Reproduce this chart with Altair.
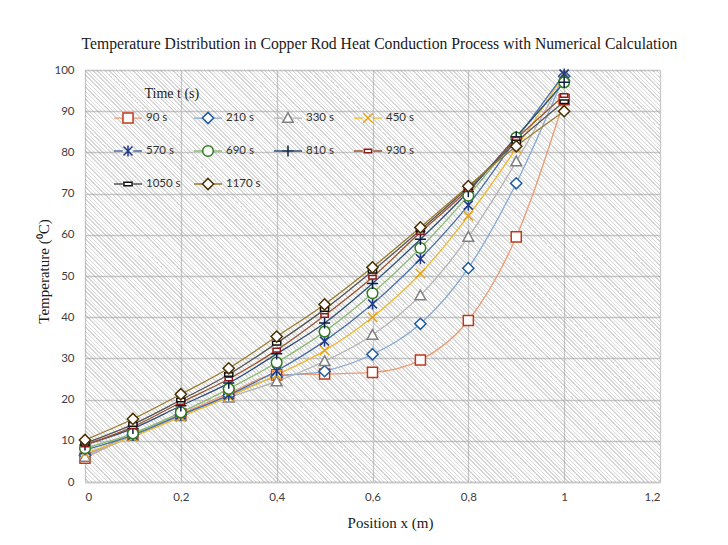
import altair as alt
import pandas as pd

# ---------------- data ----------------
x_pos = [0.0, 0.1, 0.2, 0.3, 0.4, 0.5, 0.6, 0.7, 0.8, 0.9, 1.0]
times = [90, 210, 330, 450, 570, 690, 810, 930, 1050, 1170]
T_90 = [5.8, 11.5, 16.5, 21.5, 26.0, 26.2, 26.6, 29.6, 39.2, 59.5, 92.8]
T_210 = [6.5, 11.5, 16.3, 21.0, 25.5, 26.9, 31.0, 38.4, 51.9, 72.5, 98.5]
T_330 = [6.1, 11.2, 16.0, 20.5, 24.4, 29.3, 35.7, 45.3, 59.5, 77.8, 98.5]
T_450 = [7.0, 11.0, 15.8, 20.7, 26.0, 31.9, 40.0, 50.6, 64.6, 81.0, 99.0]
T_570 = [7.8, 11.4, 16.3, 21.1, 27.0, 34.2, 43.2, 54.2, 67.2, 83.2, 99.0]
T_690 = [8.2, 11.8, 16.9, 22.6, 29.0, 36.5, 45.8, 56.8, 69.5, 83.6, 97.0]
T_810 = [9.0, 13.0, 18.5, 24.0, 31.1, 38.6, 48.2, 58.9, 70.5, 83.8, 97.0]
T_930 = [9.0, 13.4, 19.3, 25.0, 32.0, 40.4, 49.7, 60.6, 71.0, 83.2, 93.8]
T_1050 = [9.4, 14.0, 19.9, 26.1, 33.7, 41.9, 51.2, 61.2, 71.5, 82.5, 92.3]
T_1170 = [10.2, 15.3, 21.3, 27.6, 35.3, 43.1, 52.1, 61.8, 71.8, 81.5, 90.0]
series_values = [T_90, T_210, T_330, T_450, T_570, T_690, T_810, T_930, T_1050, T_1170]

x_ticks = [0, 0.2, 0.4, 0.6, 0.8, 1.0, 1.2]
y_ticks = [0, 10, 20, 30, 40, 50, 60, 70, 80, 90, 100]

# ---------------- styles ----------------
labels = [f"{t} s" for t in times]
line_colors = ["#EE9B70", "#85A9D4", "#B3B3B3", "#F2B92E", "#4A6FA8",
               "#8DBA72", "#2D4F7C", "#A0522D", "#555555", "#9C7A2A"]
marker_colors = ["#C0391B", "#1F5B9E", "#7F7F7F", "#E8A317", "#1F3A8A",
                 "#2F7D1E", "#0B1F44", "#8B1A1A", "#111111", "#4A2F00"]
BOX = "M-1,-0.5M1,0.5"   # invisible moves: give every legend symbol the same bounds
marker_paths = [BOX + p for p in [
    "M-0.36,-0.36H0.36V0.36H-0.36Z",                                   # square
    "M0,-0.4L0.4,0L0,0.4L-0.4,0Z",                                     # diamond
    "M0,-0.38L0.38,0.31L-0.38,0.31Z",                                  # triangle
    "M-0.34,-0.34L0.34,0.34M-0.34,0.34L0.34,-0.34",                    # x
    "M-0.32,-0.32L0.32,0.32M-0.32,0.32L0.32,-0.32M0,-0.4V0.4",         # asterisk
    "M-0.38,0A0.38,0.38 0 1,0 0.38,0A0.38,0.38 0 1,0 -0.38,0Z",        # circle
    "M-0.4,0H0.4M0,-0.4V0.4",                                          # plus
    "M-0.26,-0.13H0.26V0.13H-0.26Z",                                   # short dash
    "M-0.29,-0.13H0.29V0.13H-0.29Z",                                   # short dash
    "M0,-0.4L0.4,0L0,0.4L-0.4,0Z",                                     # diamond
]]
line_symbol = BOX + "M-1,0H-0.37M0.37,0H1"

rows = []
for t, lab, vals in zip(times, labels, series_values):
    for xv, tv in zip(x_pos, vals):
        rows.append({"t": t, "label": lab, "x": xv, "T": tv})
df = pd.DataFrame(rows)

W, H = 575, 412

# diagonal hatch background as a hard-stop linear gradient
r = H / W
x2 = (1 + r) / (1 + r * r)
y2 = 1 - r * (1 + r) / (1 + r * r)
period = 4.0 / (W + H)
clear = "rgba(255,255,255,0)"
hatch = "rgba(150,150,150,0.38)"
stops = []
k = 0
while k * period < 1:
    t0 = k * period
    t1 = min(t0 + 0.74 * period, 1.0)
    t2 = min(t0 + period, 1.0)
    stops += [
        {"offset": round(t0, 6), "color": clear},
        {"offset": round(t1, 6), "color": clear},
        {"offset": round(t1, 6), "color": hatch},
        {"offset": round(t2, 6), "color": hatch},
    ]
    k += 1
gradient = {"gradient": "linear", "x1": 0, "y1": 1, "x2": x2, "y2": y2, "stops": stops}

legend_title = "\u200b" + "\u00a0" * 9 + "Time t (s)"
legend_common = dict(
    orient="none", legendX=28, legendY=17, columns=4, direction="horizontal",
    gridAlign="all", columnPadding=10, rowPadding=8, symbolSize=784, labelOffset=3,
    labelFont="Lato", labelFontSize=11.5,
    title=legend_title, titleFont="Liberation Serif", titleFontSize=14,
    titleFontWeight="normal", titlePadding=2,
)

x_enc = alt.X("x:Q", scale=alt.Scale(domain=[0, 1.2], nice=False),
              axis=alt.Axis(values=x_ticks, title="Position x (m)",
                            labelExpr="replace(format(datum.value, '.1~f'), '.', ',')",
                            titleX=305, titleY=40, titleBaseline="middle",
                            labelPadding=9, domain=True))
y_enc = alt.Y("T:Q", scale=alt.Scale(domain=[0, 100], nice=False),
              axis=alt.Axis(values=y_ticks, title="Temperature (⁰C)",
                            titleX=-42, titleY=201, titleBaseline="middle",
                            labelPadding=11, domain=False))

bg = alt.Chart(pd.DataFrame({"bg": [0]})).mark_rect(fill=gradient).encode(
    x=alt.value(0), x2=alt.value(W), y=alt.value(0), y2=alt.value(H))

base = alt.Chart(df)
lines = base.mark_line(interpolate="monotone", strokeWidth=1.3).encode(
    x=x_enc, y=y_enc,
    color=alt.Color("t:N", scale=alt.Scale(domain=times, range=line_colors),
                    legend=alt.Legend(symbolType=line_symbol, symbolStrokeWidth=1.3,
                                      labelExpr="datum.label + ' s'",
                                      labelOpacity=0, titleOpacity=0, **legend_common)),
)
marker_legend = alt.Legend(symbolFillColor="white", symbolStrokeWidth=1.5,
                           labelColor="#333333", titleColor="#222222", **legend_common)
points = base.mark_point(size=784, filled=True, fill="white", opacity=1, strokeWidth=1.5).encode(
    x=x_enc, y=y_enc,
    stroke=alt.Stroke("label:N", scale=alt.Scale(domain=labels, range=marker_colors), legend=marker_legend),
    shape=alt.Shape("label:N", scale=alt.Scale(domain=labels, range=marker_paths), legend=marker_legend),
)

chart = alt.layer(bg, lines, points).properties(
    width=W, height=H,
    autosize=alt.AutoSizeParams(type="none"),
    padding={"left": 77, "top": 62, "right": 55, "bottom": 50},
    title=alt.TitleParams(
        text="Temperature Distribution in Copper Rod Heat Conduction Process with Numerical Calculation",
        font="Liberation Serif", fontSize=15.7, fontWeight="normal", color="#1a1a1a",
        anchor="middle", dx=7, offset=11),
).configure_view(strokeWidth=0).configure_axis(
    grid=True, gridColor="#c8c8c8", gridWidth=1.3, ticks=False,
    domainColor="#c8c8c8", domainWidth=1.3,
    labelFont="Lato", labelFontSize=11.5, labelColor="#404040",
    titleFont="Liberation Serif", titleFontSize=15, titleFontWeight="normal", titleColor="#1a1a1a",
)

chart.save("out.html", embed_options={"renderer": "svg", "actions": False})
